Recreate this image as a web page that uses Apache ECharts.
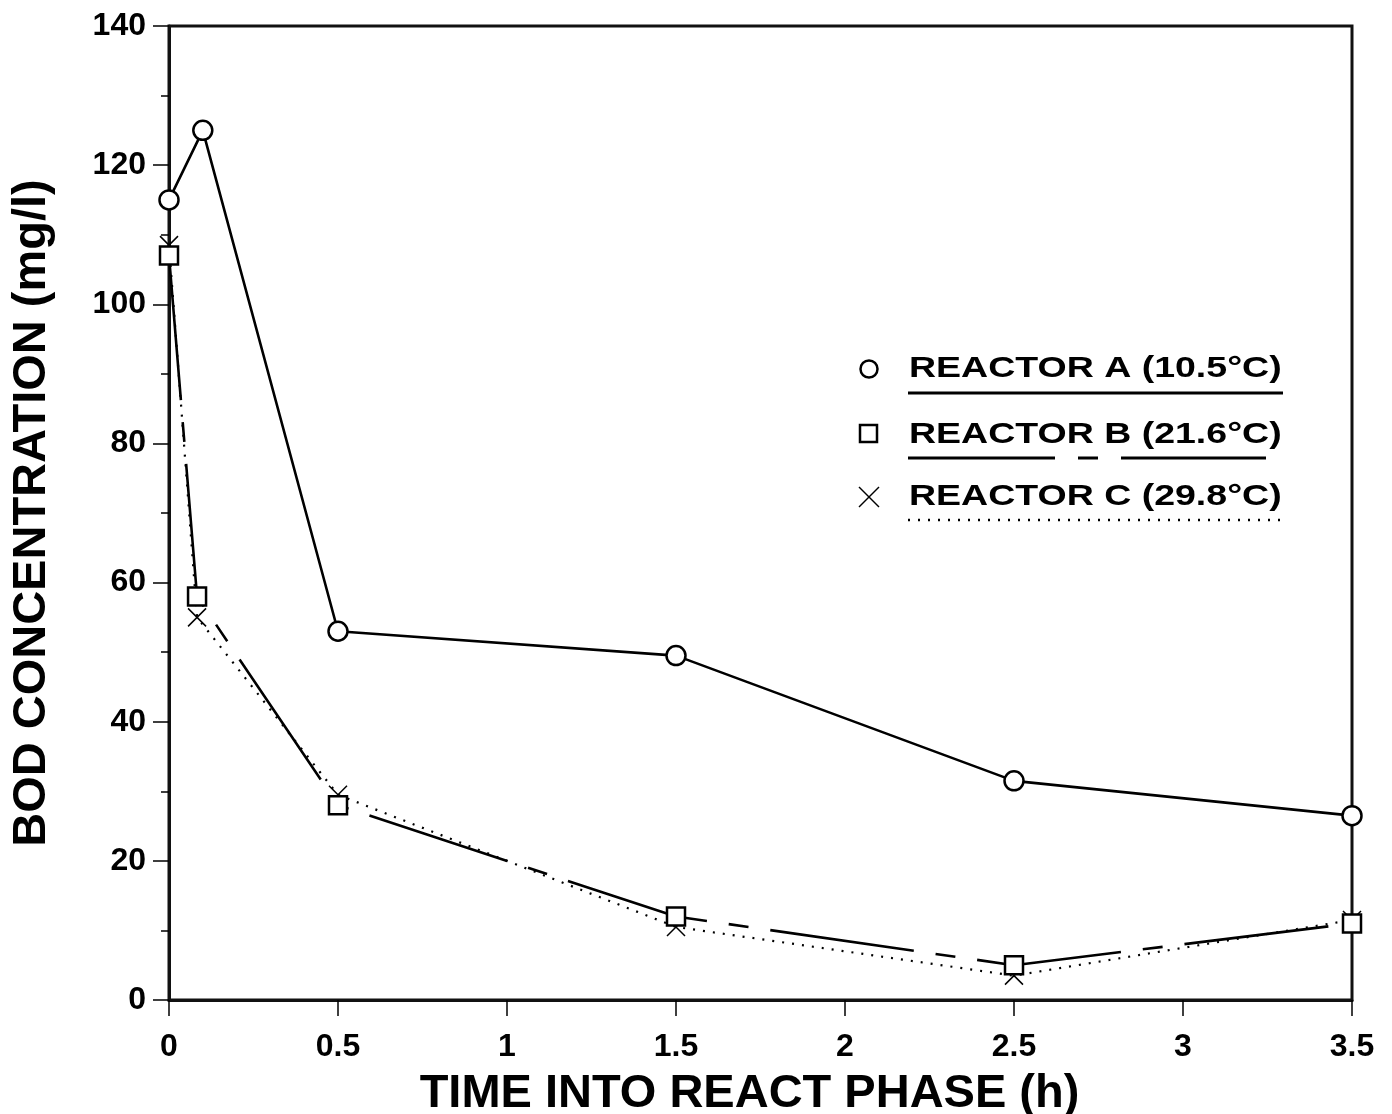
<!DOCTYPE html>
<html>
<head>
<meta charset="utf-8">
<script src="https://cdn.jsdelivr.net/npm/echarts@6/dist/echarts.min.js"></script>
<style>
  html, body { margin: 0; padding: 0; background: #fff; }
  #chart { width: 1392px; height: 1114px; }
</style>
</head>
<body>
<div id="chart"></div>
<script>
// time into react phase (h) and BOD (mg/l) for each reactor
const timeA = [0, 0.1, 0.5, 1.5, 2.5, 3.5];
const bodA = [115, 125, 53, 49.5, 31.5, 26.5];
const timeB = [0, 0.083, 0.5, 1.5, 2.5, 3.5];
const bodB = [107, 58, 28, 12, 5, 11];
const timeC = [0, 0.083, 0.5, 1.5, 2.5, 3.5];
const bodC = [108.5, 55, 29.5, 10.5, 3.5, 11.5];

const seriesNames = ["REACTOR A (10.5°C)", "REACTOR B (21.6°C)", "REACTOR C (29.8°C)"];
const xTicks = [0, 0.5, 1, 1.5, 2, 2.5, 3, 3.5];
const yTicks = [0, 20, 40, 60, 80, 100, 120, 140];

const FONT = "'Liberation Sans', Arial, Helvetica, sans-serif";
const CROSS = "path://M0 0 L10 10 M10 0 L0 10";

function pairs(xs, ys) {
  return xs.map((x, i) => [x, ys[i]]);
}

const chart = echarts.init(document.getElementById("chart"));

var option = {
  animation: false,
  backgroundColor: "#fff",
  grid: {
    left: 169,
    right: 40,
    top: 26,
    bottom: 114,
    outerBoundsMode: "none",
    containLabel: false,
    show: true,
    borderColor: "#111",
    borderWidth: 3,
  },
  xAxis: {
    type: "value",
    min: xTicks[0],
    max: xTicks[xTicks.length - 1],
    interval: 0.5,
    name: "TIME INTO REACT PHASE (h)",
    nameLocation: "middle",
    nameGap: 71,
    nameTextStyle: {
      fontFamily: FONT, fontWeight: "bold", fontSize: 47, color: "#000",
      padding: [0, 22, 0, 0],
    },
    axisLine: { onZero: false, lineStyle: { color: "#111", width: 3 } },
    axisTick: { inside: false, length: 16, lineStyle: { color: "#000", width: 1.5 } },
    axisLabel: {
      margin: 31,
      fontFamily: FONT,
      fontWeight: "bold",
      fontSize: 32,
      color: "#000",
      formatter: (v) => String(v),
    },
    splitLine: { show: false },
  },
  yAxis: {
    type: "value",
    min: yTicks[0],
    max: yTicks[yTicks.length - 1],
    interval: 20,
    name: "BOD CONCENTRATION (mg/l)",
    nameLocation: "middle",
    nameGap: 113,
    nameTextStyle: { fontFamily: FONT, fontWeight: "bold", fontSize: 47, color: "#000" },
    axisLine: { show: true, onZero: false, lineStyle: { color: "#111", width: 3 } },
    axisTick: { show: true, length: 16, lineStyle: { color: "#000", width: 1.5 } },
    minorTick: { show: true, splitNumber: 2, length: 8, lineStyle: { color: "#000", width: 1.5 } },
    axisLabel: {
      margin: 23,
      fontFamily: FONT,
      fontWeight: "bold",
      fontSize: 32,
      color: "#000",
    },
    splitLine: { show: false },
    minorSplitLine: { show: false },
  },
  series: [
    {
      name: seriesNames[2],
      type: "line",
      data: pairs(timeC, bodC),
      symbol: CROSS,
      symbolSize: 18,
      itemStyle: { color: "transparent", borderColor: "#000", borderWidth: 1.5 },
      lineStyle: { color: "#000", width: 2.2, type: [2, 8] },
      z: 2,
    },
    {
      name: seriesNames[1],
      type: "line",
      data: pairs(timeB, bodB),
      symbol: "rect",
      symbolSize: 18,
      itemStyle: { color: "#fff", borderColor: "#000", borderWidth: 2.5 },
      lineStyle: { color: "#000", width: 2.6, type: [145, 22, 20, 22] },
      z: 3,
    },
    {
      name: seriesNames[0],
      type: "line",
      data: pairs(timeA, bodA),
      symbol: "circle",
      symbolSize: 19,
      itemStyle: { color: "#fff", borderColor: "#000", borderWidth: 2.5 },
      lineStyle: { color: "#000", width: 2.6 },
      z: 4,
    },
  ],
  // legend drawn by hand so the underline styles and wide lettering match
  graphic: [
    { type: "circle", shape: { cx: 869, cy: 369, r: 8.5 }, style: { fill: "#fff", stroke: "#000", lineWidth: 2.5 } },
    { type: "rect", shape: { x: 860, y: 425, width: 17, height: 17 }, style: { fill: "#fff", stroke: "#000", lineWidth: 2.5 } },
    { type: "line", shape: { x1: 859, y1: 487, x2: 879, y2: 507 }, style: { stroke: "#000", lineWidth: 1.5 } },
    { type: "line", shape: { x1: 879, y1: 487, x2: 859, y2: 507 }, style: { stroke: "#000", lineWidth: 1.5 } },
    {
      type: "text", x: 909, y: 369, scaleX: 1.25,
      style: { text: seriesNames[0], x: 0, y: 0, verticalAlign: "middle", font: "bold 30px " + FONT, fill: "#000" },
    },
    {
      type: "text", x: 909, y: 435, scaleX: 1.25,
      style: { text: seriesNames[1], x: 0, y: 0, verticalAlign: "middle", font: "bold 30px " + FONT, fill: "#000" },
    },
    {
      type: "text", x: 909, y: 497, scaleX: 1.25,
      style: { text: seriesNames[2], x: 0, y: 0, verticalAlign: "middle", font: "bold 30px " + FONT, fill: "#000" },
    },
    { type: "line", shape: { x1: 908, y1: 393, x2: 1283, y2: 393 }, style: { stroke: "#000", lineWidth: 3 } },
    { type: "line", shape: { x1: 908, y1: 458, x2: 1266, y2: 458 }, style: { stroke: "#000", lineWidth: 3, lineDash: [147, 23, 20, 23] } },
    { type: "line", shape: { x1: 908, y1: 520, x2: 1286, y2: 520 }, style: { stroke: "#000", lineWidth: 2.5, lineDash: [2, 8] } },
  ],
};

chart.setOption(option);
</script>
</body>
</html>
